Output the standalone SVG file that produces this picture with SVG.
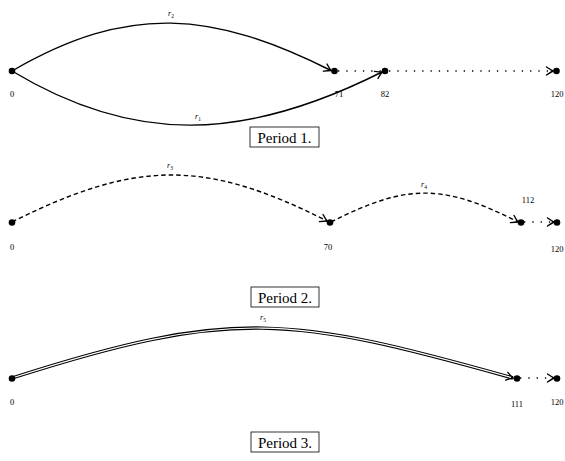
<svg xmlns="http://www.w3.org/2000/svg" width="565" height="461" viewBox="0 0 565 461">
<style>
.e{fill:none;stroke:#000;stroke-width:1.4}
.dash{stroke-dasharray:4.5 3}
.dot{stroke-dasharray:1.3 7}
.n{font-family:"Liberation Serif",serif;font-size:8.5px;text-anchor:middle;fill:#000}
.r{font-family:"Liberation Serif",serif;font-size:8px;font-style:italic;fill:#000}
.s{font-size:5.5px;font-style:normal}
.p{font-family:"Liberation Serif",serif;font-size:15px;text-anchor:middle;fill:#000}
.box{fill:#fff;stroke:#000;stroke-width:0.8}
</style>
<defs>
<marker id="ar" markerUnits="userSpaceOnUse" markerWidth="12" markerHeight="12" viewBox="-8 -6 12 12" refX="0" refY="0" orient="auto" overflow="visible">
<path d="M -6.5 -4 Q -2 -1 0 0 Q -2 1 -6.5 4" fill="none" stroke="#000" stroke-width="1.4" stroke-linecap="round"/>
</marker>
</defs>
<rect width="565" height="461" fill="#fff"/>
<g id="connectors">
<path class="e" d="M12 71 C129 3 213 11.5 331 70.5" marker-end="url(#ar)"/>
<path class="e" d="M12 71 C133 144 243 142 382 72" marker-end="url(#ar)"/>
<path class="e dot" d="M338 71 L382 71"/>
<path class="e dot" d="M389 71 L553 71" marker-end="url(#ar)"/>
<path class="e dash" d="M12 222 C135 160.5 204 158.5 327 221" marker-end="url(#ar)"/>
<path class="e dash" d="M331 222 C406 184 442 183 518 222" marker-end="url(#ar)"/>
<path class="e dot" d="M524 222 L554 222" marker-end="url(#ar)"/>
<path fill="none" stroke="#000" stroke-width="3.4" d="M12 378 C233 307 292 316 513 378" marker-end="url(#ar)"/>
<path fill="none" stroke="#fff" stroke-width="1.2" d="M12 378 C233 307 292 316 511 377.4"/>
<path class="e dot" d="M520 378 L554 378" marker-end="url(#ar)"/>
</g>
<g id="p1-n0"><circle cx="12" cy="71" r="3.3"/><text class="n" x="12" y="97">0</text></g>
<g id="p1-n71"><circle cx="334.5" cy="71" r="3.3"/><text class="n" x="339" y="97">71</text></g>
<g id="p1-n82"><circle cx="385" cy="71" r="3.3"/><text class="n" x="385" y="97">82</text></g>
<g id="p1-n120"><circle cx="556.5" cy="71" r="3.3"/><text class="n" x="557" y="97">120</text></g>
<g id="p1-labels"><text class="r" x="168" y="16">r<tspan class="s" dy="1.5">2</tspan></text><text class="r" x="195" y="119">r<tspan class="s" dy="1.5">1</tspan></text></g>
<g id="period1"><rect class="box" x="250" y="127" width="69" height="20"/><text class="p" x="284.5" y="142.5">Period 1.</text></g>
<g id="p2-n0"><circle cx="12" cy="222.5" r="3.3"/><text class="n" x="12" y="250">0</text></g>
<g id="p2-n70"><circle cx="330" cy="222.5" r="3.3"/><text class="n" x="328" y="250">70</text></g>
<g id="p2-n112"><circle cx="521" cy="222.5" r="3.3"/><text class="n" x="528" y="203">112</text></g>
<g id="p2-n120"><circle cx="557" cy="222.5" r="3.3"/><text class="n" x="557" y="252">120</text></g>
<g id="p2-labels"><text class="r" x="167" y="168">r<tspan class="s" dy="1.5">3</tspan></text><text class="r" x="421" y="187">r<tspan class="s" dy="1.5">4</tspan></text></g>
<g id="period2"><rect class="box" x="251" y="287" width="68" height="20"/><text class="p" x="285" y="302.5">Period 2.</text></g>
<g id="p3-n0"><circle cx="12" cy="378.5" r="3.3"/><text class="n" x="12" y="405">0</text></g>
<g id="p3-n111"><circle cx="517" cy="378.5" r="3.3"/><text class="n" x="517" y="407">111</text></g>
<g id="p3-n120"><circle cx="557" cy="378.5" r="3.3"/><text class="n" x="557" y="405">120</text></g>
<g id="p3-labels"><text class="r" x="260" y="320">r<tspan class="s" dy="1.5">5</tspan></text></g>
<g id="period3"><rect class="box" x="251" y="432" width="68" height="20"/><text class="p" x="285" y="447.5">Period 3.</text></g>
</svg>
